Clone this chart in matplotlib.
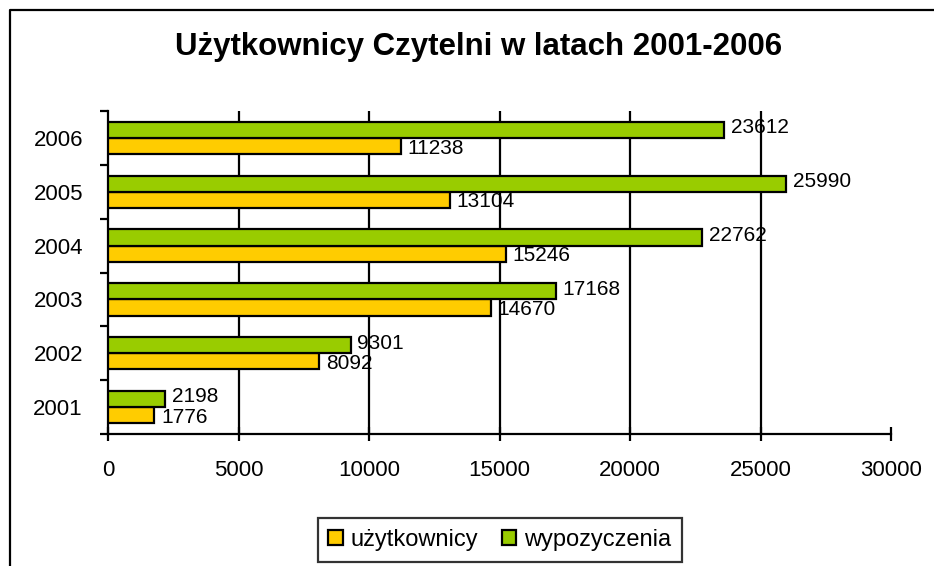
import matplotlib
matplotlib.use("Agg")
import matplotlib.pyplot as plt
from matplotlib.lines import Line2D
import numpy as np

years = ["2001", "2002", "2003", "2004", "2005", "2006"]
uzytkownicy = [1776, 8092, 14670, 15246, 13104, 11238]
wypozyczenia = [2198, 9301, 17168, 22762, 25990, 23612]
xticks = [0, 5000, 10000, 15000, 20000, 25000, 30000]

YELLOW = "#ffcc00"
GREEN = "#99cc00"
W, H = 934, 566

plt.rcParams["font.family"] = ["Liberation Sans", "DejaVu Sans"]

fig = plt.figure(figsize=(W / 100, H / 100), dpi=100)
# chart frame (cropped: only the top and left edges show)
fig.lines.append(Line2D([10 / W, 10 / W, 1.0], [0.0, 1 - 10 / H, 1 - 10 / H],
                        transform=fig.transFigure, color="black", lw=1.6))

ax = fig.add_axes([108 / W, 1 - 434 / H, (891 - 108) / W, (434 - 111) / H])

y = np.arange(len(years))
h = 0.3
ax.barh(y - h / 2, uzytkownicy, height=h, color=YELLOW, edgecolor="black", lw=1.6,
        label="użytkownicy", zorder=3)
ax.barh(y + h / 2, wypozyczenia, height=h, color=GREEN, edgecolor="black", lw=1.6,
        label="wypozyczenia", zorder=3)

for yi, u, w in zip(y, uzytkownicy, wypozyczenia):
    ax.text(u + 250, yi - h / 2 - 0.04, str(u), va="center", ha="left", fontsize=15, zorder=4)
    ax.text(w + 250, yi + h / 2 + 0.04, str(w), va="center", ha="left", fontsize=15, zorder=4)

ax.set_xlim(0, 30000)
ax.set_ylim(-0.5, len(years) - 0.5)
ax.set_xticks(xticks)
ax.set_xticklabels([str(v) for v in xticks], fontsize=16)
ax.set_yticks(y)
ax.set_yticklabels(years, fontsize=16)
ax.set_yticks(np.arange(len(years) + 1) - 0.5, minor=True)
for v in xticks[1:-1]:
    ax.axvline(v, color="black", lw=1.6, zorder=0)
ax.tick_params(axis="y", which="major", length=0, pad=18)
ax.tick_params(axis="y", which="minor", length=6, width=1.6, direction="out")
ax.tick_params(axis="x", length=10, width=1.6, direction="inout", pad=14)
for s in ["top", "right"]:
    ax.spines[s].set_visible(False)
ax.spines["left"].set_linewidth(1.6)
ax.spines["bottom"].set_linewidth(1.6)

fig.text(479 / W, 1 - 47 / H, "Użytkownicy Czytelni w latach 2001-2006", ha="center",
         va="center", fontsize=22.5, fontweight="bold")

leg = fig.legend(loc="center", bbox_to_anchor=(500 / W, 1 - 540 / H), ncol=2,
                 fontsize=17, frameon=True, fancybox=False, edgecolor="black",
                 handlelength=0.6, handleheight=0.6, handletextpad=0.35, columnspacing=1.0,
                 borderpad=0.45)
leg.get_frame().set_linewidth(1.6)

fig.savefig("out.png", dpi=100)
